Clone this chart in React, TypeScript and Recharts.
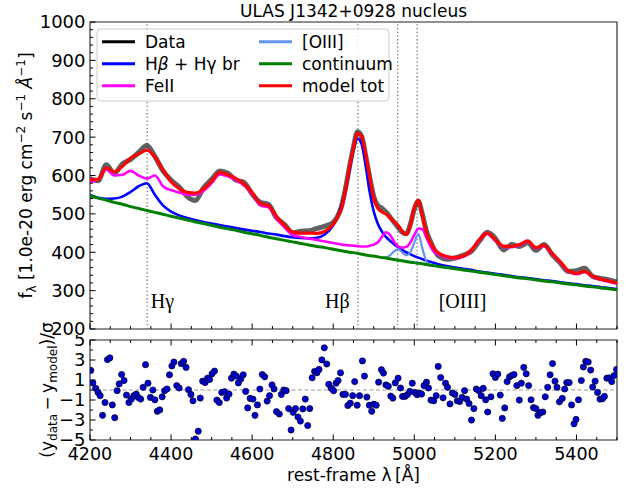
import React from 'react';
import {
  LineChart,
  Line,
  XAxis,
  YAxis,
  ReferenceLine,
  ReferenceArea,
  ReferenceDot,
  ScatterChart,
  Scatter,
} from 'recharts';

// ---------------- data ----------------
const wave = [
  4200, 4220, 4240, 4260, 4280, 4300, 4320, 4340, 4360, 4380, 4400, 4420, 4440, 4460, 4480, 4500,
  4520, 4540, 4560, 4580, 4600, 4620, 4640, 4660, 4680, 4700, 4720, 4740, 4760, 4780, 4800,
  4810, 4820, 4830, 4840, 4850, 4860, 4870, 4880, 4890, 4900, 4910, 4920, 4930, 4940, 4950, 4960,
  4970, 4980, 4990, 5000, 5010, 5020, 5030, 5040, 5050, 5060,
  5080, 5100, 5120, 5140, 5160, 5180, 5200, 5220, 5240, 5260, 5280, 5300, 5320, 5340, 5360, 5380,
  5400, 5420, 5440, 5460, 5480, 5500,
];

const fluxData = [
  592, 586, 628, 606, 630, 642, 660, 678, 650, 612, 588, 570, 545, 535, 568, 590,
  612, 606, 588, 582, 552, 530, 525, 490, 472, 450, 455, 456, 462, 468, 478,
  492, 518, 565, 622, 675, 714, 702, 652, 595, 545, 522, 515, 505, 492, 478, 465,
  452, 448, 472, 512, 533, 498, 455, 428, 405, 390,
  382, 385, 392, 402, 428, 452, 436, 406, 420, 415, 425, 405, 420, 394, 372, 350,
  352, 358, 337, 332, 328, 322,
];

const hbHgBroad = [
  549, 542, 539, 540, 545, 557, 572, 580, 550, 522, 506, 496, 489, 484, 479, 475,
  471, 467, 463, 459, 456, 453, 449, 446, 442, 439, 437, 436, 438, 447, 470,
  490, 522, 560, 615, 668, 696, 682, 625, 556, 506, 474, 454, 440, 430, 421, 413,
  406, 400, 395, 390, 386, 382, 378, 375, 372, 369,
  364, 360, 357, 354, 350, 347, 344, 341, 338, 335, 333, 330, 327, 325, 322, 319,
  317, 314, 312, 309, 307, 304,
];

const feII = [
  583, 590, 615, 600, 602, 612, 600, 592, 600, 572, 562, 556, 550, 550, 560, 580,
  603, 598, 588, 574, 551, 522, 517, 488, 464, 445, 440, 436, 432, 428, 424,
  422, 420, 419, 418, 417, 416, 415, 415, 417, 420, 426, 440, 452, 445, 428, 415,
  412, 414, 425, 445, 462, 460, 438, 415, 400, 394,
  386, 384, 388, 403, 430, 448, 430, 414, 413, 418, 428, 410, 416, 395, 373, 350,
  343, 348, 336, 328, 323, 318,
];

const oIII = [
  null, null, null, null, null, null, null, null, null, null, null, null, null, null, null, null,
  null, null, null, null, null, null, null, null, null, null, null, null, null, null, null,
  null, null, null, null, null, null, null, null, null, null, null, 386, 387, 392, 402, 408,
  400, 392, 400, 425, 447, 410, 376, 366, null, null,
  null, null, null, null, null, null, null, null, null, null, null, null, null, null, null, null,
  null, null, null, null, null, null,
];

const continuum = [
  547, 541, 536, 530, 525, 519, 514, 509, 504, 499, 494, 489, 484, 479, 475, 470,
  465, 461, 457, 452, 448, 444, 439, 435, 431, 427, 423, 419, 415, 412, 408,
  406, 404, 402, 400, 399, 397, 395, 393, 391, 390, 388, 386, 385, 383, 381, 379,
  378, 376, 374, 373, 371, 370, 368, 366, 365, 363,
  360, 357, 354, 351, 348, 345, 342, 339, 336, 333, 331, 328, 325, 323, 320, 317,
  315, 312, 310, 307, 305, 302,
];

const modelTot = [
  589, 590, 620, 610, 624, 645, 656, 666, 648, 615, 584, 566, 556, 554, 565, 585,
  608, 602, 592, 578, 555, 527, 522, 493, 470, 453, 450, 450, 449, 455, 473,
  490, 515, 560, 620, 672, 710, 702, 655, 595, 540, 515, 505, 500, 490, 480, 470,
  455, 446, 470, 515, 535, 495, 450, 425, 408, 398,
  389, 386, 390, 405, 432, 450, 432, 416, 415, 420, 430, 412, 418, 397, 375, 352,
  345, 350, 338, 330, 325, 320,
];

const residWave = [
  4202, 4207, 4214, 4220, 4225, 4231, 4237, 4243, 4249, 4255, 4261, 4267, 4272, 4278, 4284, 4290,
  4296, 4302, 4308, 4314, 4319, 4325, 4331, 4337, 4343, 4349, 4355, 4360, 4366, 4372, 4378, 4384,
  4390, 4396, 4402, 4407, 4414, 4420, 4425, 4431, 4437, 4443, 4449, 4454, 4460, 4467, 4472, 4478,
  4484, 4490, 4495, 4501, 4507, 4513, 4519, 4525, 4532, 4537, 4543, 4549, 4555, 4561, 4566, 4572,
  4578, 4584, 4589, 4595, 4602, 4607, 4613, 4619, 4625, 4631, 4637, 4643, 4649, 4654, 4660, 4667,
  4672, 4678, 4684, 4690, 4696, 4701, 4707, 4713, 4719, 4725, 4731, 4737, 4742, 4748, 4754, 4760,
  4765, 4772, 4778, 4784, 4789, 4795, 4801, 4807, 4812, 4818, 4824, 4830, 4836, 4842, 4848, 4853,
  4859, 4865, 4872, 4877, 4883, 4889, 4895, 4900, 4906, 4912, 4919, 4924, 4930, 4936, 4942, 4947,
  4953, 4960, 4966, 4971, 4977, 4983, 4989, 4995, 5001, 5007, 5012, 5018, 5024, 5030, 5035, 5041,
  5048, 5054, 5059, 5065, 5071, 5077, 5082, 5088, 5094, 5100, 5106, 5112, 5118, 5124, 5129, 5135,
  5141, 5147, 5153, 5159, 5165, 5170, 5176, 5181, 5189, 5194, 5200, 5206, 5212, 5217, 5223, 5229,
  5235, 5240, 5246, 5253, 5259, 5264, 5270, 5276, 5282, 5288, 5294, 5300, 5305, 5311, 5317, 5323,
  5329, 5335, 5341, 5347, 5352, 5358, 5365, 5371, 5376, 5382, 5388, 5394, 5399, 5405, 5412, 5417,
  5423, 5429, 5435, 5440, 5446, 5452, 5458, 5464, 5469, 5475, 5481, 5487, 5493, 5499,
];

const residSigma = [
  1.96, 0.71, 0.17, -0.24, -0.57, -2.53, -1.25, 3.04, 3.21, -1.49, -2.77, -0.07, 0.61, 1.55, 0.95, -0.51,
  -1.25, -0.91, -0.57, -0.41, -0.74, -0.91, 0.27, 2.53, 0.68, -0.74, 0.0, -0.98, -2.13, -1.99, -0.68, -0.07,
  0.1, 1.52, 2.4, 2.8, 0.44, 0.2, 2.64, 2.87, 2.26, 0.03, -0.44, -1.08, -4.9, -4.12, -0.81, 0.88,
  0.74, 1.18, 1.05, 1.62, 1.89, -1.01, -1.25, -0.24, -0.17, -0.81, -0.41, 1.18, 1.59, 1.39, 0.71, 1.11,
  1.52, -0.14, -1.79, -0.84, -0.91, -2.53, -1.49, 0.1, 1.55, 1.32, -1.11, -0.57, 0.51, 0.1, -2.16, -2.4,
  -0.44, 0.0, -0.07, -1.86, -4.0, -2.23, -1.86, -2.7, -3.11, -1.89, -0.91, -3.55, -1.86, 1.22, 1.86, 1.72,
  2.06, 3.01, 4.22, 2.6, 0.57, 0.17, -0.07, 0.68, 0.95, 1.72, -0.44, -0.44, -1.55, -1.32, -0.57, 0.84,
  -1.52, -0.57, 2.91, 1.39, -0.71, -1.52, -2.13, -1.42, -1.52, 0.78, 2.03, 1.69, 0.51, 0.37, -0.61, -0.81,
  0.71, 1.18, 0.2, -0.64, -0.64, -0.47, -0.14, 0.68, -0.24, -0.47, -0.3, -0.41, 0.44, 0.78, 0.2, -1.01,
  -1.08, -0.57, 2.36, 1.25, -0.78, 0.68, 0.27, -1.39, -0.3, -0.44, -1.08, -1.15, -0.74, -0.07, -0.91, -1.35,
  -3.01, -1.86, 0.1, -0.07, -0.57, 0.17, -0.98, -2.2, -0.68, 1.62, 1.25, 1.59, -0.51, -2.84, -1.79, 0.84,
  1.32, 1.45, 1.55, 0.44, -1.01, 0.68, 2.26, 1.62, 0.44, -0.98, -1.76, -1.86, -2.53, -2.26, -2.2, -0.68,
  0.27, 1.52, 2.64, 0.88, 0.27, -1.18, -0.84, 0.1, 0.74, 0.74, -1.49, -3.38, -2.94, -0.98, 0.95, 2.3,
  2.87, 2.8, 1.99, 0.3, 0.88, -0.24, -0.91, -0.88, -0.64, 1.18, 1.22, 0.84, 1.45, 2.06,
];

const lineCenters = [4341, 4861, 4959, 5007];
const lineLabels = [
  { x: 4350, y: 255, text: 'Hγ' },
  { x: 4780, y: 255, text: 'Hβ' },
  { x: 5060, y: 255, text: '[OIII]' },
];

const xTicks = [
  4200, 4250, 4300, 4350, 4400, 4450, 4500, 4550, 4600, 4650, 4700, 4750, 4800, 4850,
  4900, 4950, 5000, 5050, 5100, 5150, 5200, 5250, 5300, 5350, 5400, 5450, 5500,
];
const xMajor = [4200, 4400, 4600, 4800, 5000, 5200, 5400];

const yTicksTop = [
  200, 220, 240, 260, 280, 300, 320, 340, 360, 380, 400, 420, 440, 460, 480, 500, 520, 540,
  560, 580, 600, 620, 640, 660, 680, 700, 720, 740, 760, 780, 800, 820, 840, 860, 880, 900,
  920, 940, 960, 980, 1000,
];
const yMajorTop = [200, 300, 400, 500, 600, 700, 800, 900, 1000];

const yTicksRes = [-5, -4, -3, -2, -1, 0, 1, 2, 3, 4, 5];
const yMajorRes = [-5, -3, -1, 1, 3, 5];

const legendItems = [
  { label: 'Data', color: '#000000', col: 0, row: 0 },
  { label: 'Hβ + Hγ br', color: '#0000ff', col: 0, row: 1 },
  { label: 'FeII', color: '#ff00ff', col: 0, row: 2 },
  { label: '[OIII]', color: '#6495ed', col: 1, row: 0 },
  { label: 'continuum', color: '#008000', col: 1, row: 1 },
  { label: 'model tot', color: '#ff0000', col: 1, row: 2 },
];

// ---------------- helpers ----------------
const FONT = 'DejaVu Sans';
const fmtNum = (v: number) => (v < 0 ? '\u2212' + Math.abs(v) : String(v));

const bottomTick = (withLabels: boolean) => (props: any) => {
  const { x, y, payload } = props;
  const v = payload.value;
  const major = xMajor.includes(v);
  return (
    <g>
      <line x1={x} x2={x} y1={y} y2={y - (major ? 5.5 : 3)} stroke="#000" strokeWidth={1} />
      {withLabels && major ? (
        <text x={x} y={y + 20} textAnchor="middle" fontSize={17.5} fontFamily={FONT} fill="#000">
          {v}
        </text>
      ) : null}
    </g>
  );
};

const topTick = (props: any) => {
  const { x, y, payload } = props;
  const major = xMajor.includes(payload.value);
  return <line x1={x} x2={x} y1={y} y2={y + (major ? 5.5 : 3)} stroke="#000" strokeWidth={1} />;
};

const leftTick = (majors: number[]) => (props: any) => {
  const { x, y, payload } = props;
  const v = payload.value;
  const major = majors.includes(v);
  return (
    <g>
      <line x1={x} x2={x + (major ? 5.5 : 3)} y1={y} y2={y} stroke="#000" strokeWidth={1} />
      {major ? (
        <text x={x - 4.5} y={y} dy="0.36em" textAnchor="end" fontSize={18} fontFamily={FONT} fill="#000">
          {fmtNum(v)}
        </text>
      ) : null}
    </g>
  );
};

export default function App() {
  const specRows = wave.map((w, i) => ({
    x: w,
    data: fluxData[i],
    broad: hbHgBroad[i],
    fe: feII[i],
    o3: oIII[i],
    cont: continuum[i],
    model: modelTot[i],
  }));
  const residRows = residWave.map((w, i) => ({ x: w, r: residSigma[i] }));

  return (
    <div style={{ position: 'absolute', left: 0, top: 0, width: 627, height: 488, background: '#fff' }}>
      {/* top panel */}
      <div style={{ position: 'absolute', left: 0, top: 0 }}>
        <LineChart width={627} height={340} data={specRows} margin={{ top: 22, right: 10, bottom: 10, left: 0 }}>
          <XAxis
            dataKey="x"
            type="number"
            domain={[4200, 5500]}
            ticks={xTicks}
            interval={0}
            height={1}
            tickSize={0}
            tickMargin={0}
            tickLine={false}
            axisLine={false}
            tick={bottomTick(false)}
            allowDataOverflow
          />
          <YAxis
            type="number"
            domain={[200, 1000]}
            ticks={yTicksTop}
            interval={0}
            width={90}
            tickSize={0}
            tickMargin={0}
            tickLine={false}
            axisLine={false}
            tick={leftTick(yMajorTop)}
            allowDataOverflow
          />
          {lineCenters.map((c) => (
            <ReferenceLine key={c} x={c} stroke="#777" strokeWidth={1.3} strokeDasharray="1.3 2.4" />
          ))}
          <Line dataKey="data" stroke="#000" strokeOpacity={0.62} strokeWidth={5} dot={false} type="monotone" isAnimationActive={false} />
          <Line dataKey="broad" stroke="#0000ff" strokeWidth={2.6} dot={false} type="monotone" isAnimationActive={false} />
          <Line dataKey="fe" stroke="#ff00ff" strokeWidth={2.6} dot={false} type="monotone" isAnimationActive={false} />
          <Line dataKey="o3" stroke="#6495ed" strokeWidth={2.2} dot={false} type="monotone" connectNulls={false} isAnimationActive={false} />
          <Line dataKey="cont" stroke="#008000" strokeWidth={3} dot={false} type="monotone" isAnimationActive={false} />
          <Line dataKey="model" stroke="#ff0000" strokeWidth={3.2} dot={false} type="monotone" isAnimationActive={false} />
          {lineLabels.map((l) => (
            <ReferenceDot
              key={l.text}
              x={l.x}
              y={l.y}
              r={0}
              shape={(p: any) => (
                <text x={p.cx} y={p.cy} fontSize={20} fontFamily="Liberation Serif" fill="#000">
                  {l.text}
                </text>
              )}
            />
          ))}
          <ReferenceArea x1={4200} x2={5500} y1={200} y2={1000} fill="none" stroke="#222" strokeWidth={1.1} />
        </LineChart>
      </div>

      {/* residual panel */}
      <div style={{ position: 'absolute', left: 0, top: 335 }}>
        <ScatterChart width={627} height={153} margin={{ top: 4, right: 10, bottom: 47, left: 0 }}>
          <XAxis
            dataKey="x"
            type="number"
            domain={[4200, 5500]}
            ticks={xTicks}
            interval={0}
            height={1}
            tickSize={0}
            tickMargin={0}
            tickLine={false}
            axisLine={false}
            tick={bottomTick(true)}
            allowDataOverflow
          />
          <XAxis
            xAxisId="top"
            orientation="top"
            dataKey="x"
            type="number"
            domain={[4200, 5500]}
            ticks={xTicks}
            interval={0}
            height={1}
            tickSize={0}
            tickMargin={0}
            tickLine={false}
            axisLine={false}
            tick={topTick}
            allowDataOverflow
          />
          <YAxis
            dataKey="r"
            type="number"
            domain={[-5, 5]}
            ticks={yTicksRes}
            interval={0}
            width={90}
            tickSize={0}
            tickMargin={0}
            tickLine={false}
            axisLine={false}
            tick={leftTick(yMajorRes)}
            allowDataOverflow
          />
          <ReferenceLine y={0} stroke="#999" strokeWidth={1} strokeDasharray="4 2.5" />
          <Scatter
            data={residRows}
            isAnimationActive={false}
            shape={(p: any) => (
              <circle cx={p.cx} cy={p.cy} r={3.1} fill="#0000cc" stroke="#00002a" strokeWidth={0.7} />
            )}
          />
          <ReferenceArea x1={4200} x2={5500} y1={-5} y2={5} fill="none" stroke="#222" strokeWidth={1.1} />
        </ScatterChart>
      </div>

      {/* titles, axis labels, legend */}
      <svg
        width={627}
        height={488}
        style={{ position: 'absolute', left: 0, top: 0, pointerEvents: 'none' }}
        fontFamily={FONT}
      >
        <text x={353.5} y={16.5} textAnchor="middle" fontSize={17} fill="#000">
          ULAS J1342+0928 nucleus
        </text>
        <text transform="translate(32,175.5) rotate(-90)" textAnchor="middle" fontSize={17} fill="#000">
          f<tspan dy={4} fontSize={12}>λ</tspan>
          <tspan dy={-4}> [1.0e-20 erg cm</tspan>
          <tspan dy={-7} fontSize={12}>−2</tspan>
          <tspan dy={7}> s</tspan>
          <tspan dy={-7} fontSize={12}>−1</tspan>
          <tspan dy={7}> </tspan>
          <tspan fontStyle="italic">Å</tspan>
          <tspan dy={-7} fontSize={12}>−1</tspan>
          <tspan dy={7}>]</tspan>
        </text>
        <text transform="translate(53,390) rotate(-90)" textAnchor="middle" fontSize={17} fill="#000">
          (y<tspan dy={4} fontSize={12}>data</tspan>
          <tspan dy={-4}>{'\u2009\u2212\u2009'}y</tspan>
          <tspan dy={4} fontSize={12}>model</tspan>
          <tspan dy={-4}>)/σ</tspan>
        </text>
        <text x={353.5} y={481} textAnchor="middle" fontSize={17} fill="#000">
          rest-frame λ{'\u2009'}[Å]
        </text>

        <rect x={97} y={29} width={292} height={72} rx={4} fill="#fff" fillOpacity={0.85} stroke="#cccccc" strokeWidth={1} />
        {legendItems.map((it) => {
          const lx = it.col === 0 ? 102 : 259;
          const tx = it.col === 0 ? 145 : 302;
          const ly = 41.7 + it.row * 22;
          return (
            <g key={it.label}>
              <line x1={lx} x2={lx + 33} y1={ly} y2={ly} stroke={it.color} strokeWidth={3} />
              <text x={tx} y={ly} dy="0.36em" fontSize={17} fill="#000">
                {it.label === 'Hβ + Hγ br' ? (
                  <>
                    H<tspan fontStyle="italic">β</tspan> + Hγ br
                  </>
                ) : (
                  it.label
                )}
              </text>
            </g>
          );
        })}
      </svg>
    </div>
  );
}
